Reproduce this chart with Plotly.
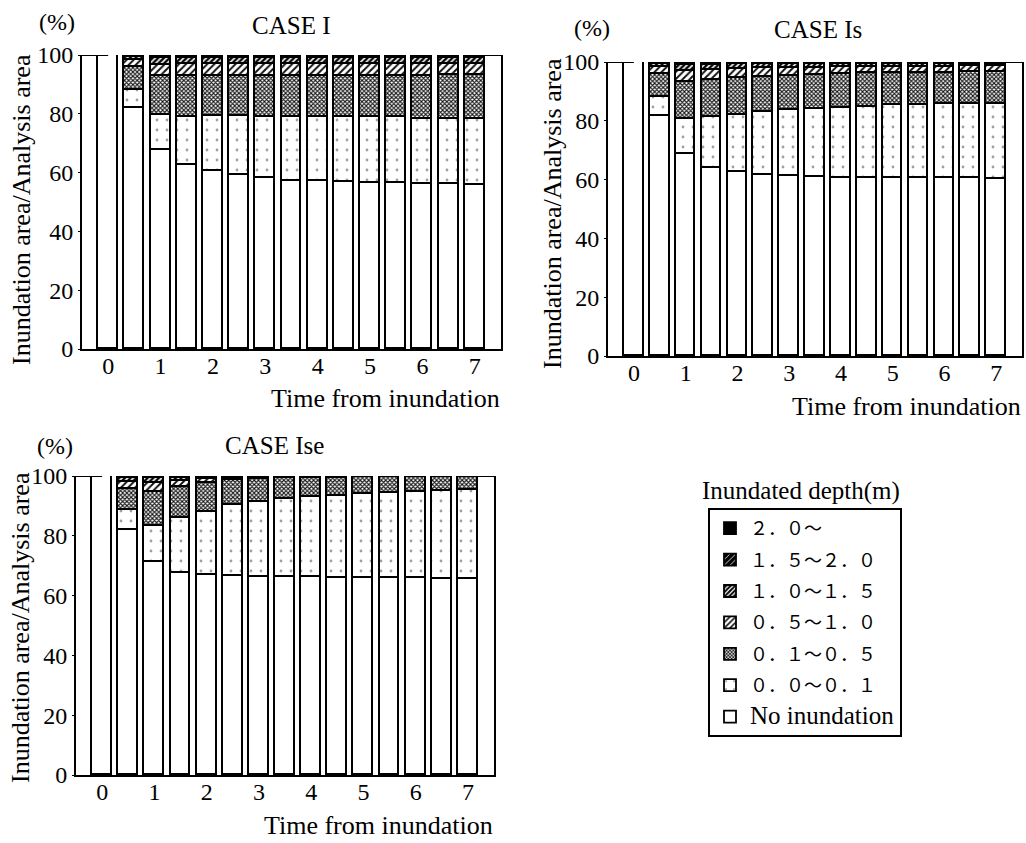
import plotly.graph_objects as go

W, H = 1026, 843

# ---------------- data ----------------
time_h = [0, 0.5, 1, 1.5, 2, 2.5, 3, 3.5, 4, 4.5, 5, 5.5, 6, 6.5, 7]
x_tick_vals = [0, 1, 2, 3, 4, 5, 6, 7]
y_tick_vals = [0, 20, 40, 60, 80, 100]

case_names = ["CASE I", "CASE Is", "CASE Ise"]
class_labels = ["No inundation", "０．０～０．１", "０．１～０．５", "０．５～１．０",
                "１．０～１．５", "１．５～２．０", "２．０～"]

# CASE I (% of analysis area)
caseI_no = [100, 81.9, 67.8, 62.5, 60.4, 59.3, 58.0, 57.3, 57.0, 56.7, 56.5, 56.3, 56.1, 56.0, 55.8]
caseI_d00_01 = [0, 6.2, 11.7, 16.5, 18.7, 20.0, 21.0, 21.5, 21.9, 22.3, 22.4, 22.7, 22.2, 22.2, 22.4]
caseI_d01_05 = [0, 7.9, 13.2, 13.9, 13.9, 13.7, 14.0, 14.2, 14.0, 13.9, 14.0, 13.9, 14.7, 14.9, 15.1]
caseI_d05_10 = [0, 2.3, 4.0, 3.9, 3.9, 3.9, 3.9, 3.9, 3.9, 3.9, 3.9, 3.9, 3.9, 3.8, 3.7]
caseI_d10_15 = [0, 1.1, 2.2, 2.1, 2.1, 2.1, 2.1, 2.1, 2.1, 2.1, 2.1, 2.1, 2.1, 2.1, 2.0]
caseI_d15_20 = [0, 0.4, 0.7, 0.7, 0.6, 0.6, 0.6, 0.6, 0.6, 0.7, 0.7, 0.7, 0.6, 0.6, 0.6]
caseI_d20 = [0, 0.2, 0.4, 0.4, 0.4, 0.4, 0.4, 0.4, 0.4, 0.4, 0.4, 0.4, 0.4, 0.4, 0.4]

# CASE Is
caseIs_no = [100, 81.6, 68.7, 64.1, 62.5, 61.7, 61.2, 60.9, 60.7, 60.6, 60.5, 60.5, 60.4, 60.4, 60.3]
caseIs_d00_01 = [0, 6.6, 11.9, 17.2, 19.6, 21.3, 22.5, 23.1, 23.8, 24.2, 24.8, 24.9, 25.2, 25.3, 25.5]
caseIs_d01_05 = [0, 7.7, 12.5, 12.6, 12.6, 12.0, 11.5, 11.5, 11.3, 11.3, 11.0, 11.0, 10.8, 10.8, 10.8]
caseIs_d05_10 = [0, 2.3, 3.8, 3.4, 3.0, 2.8, 2.7, 2.5, 2.4, 2.2, 2.1, 2.0, 2.0, 2.0, 1.9]
caseIs_d10_15 = [0, 1.1, 2.1, 1.8, 1.5, 1.4, 1.4, 1.3, 1.2, 1.1, 1.0, 1.0, 1.0, 0.9, 0.9]
caseIs_d15_20 = [0, 0.4, 0.6, 0.5, 0.5, 0.5, 0.4, 0.4, 0.3, 0.3, 0.3, 0.3, 0.3, 0.3, 0.3]
caseIs_d20 = [0, 0.3, 0.4, 0.4, 0.3, 0.3, 0.3, 0.3, 0.3, 0.3, 0.3, 0.3, 0.3, 0.3, 0.3]

# CASE Ise
caseIse_no = [100, 82.1, 71.1, 67.7, 66.8, 66.4, 66.3, 66.2, 66.1, 66.0, 65.9, 65.9, 65.8, 65.7, 65.6]
caseIse_d00_01 = [0, 6.4, 12.2, 18.4, 21.2, 23.8, 25.0, 26.0, 27.0, 27.4, 28.2, 28.5, 28.8, 29.3, 29.7]
caseIse_d01_05 = [0, 7.2, 11.5, 10.1, 9.6, 8.4, 7.8, 7.0, 6.3, 6.1, 5.5, 5.2, 5.1, 4.7, 4.4]
caseIse_d05_10 = [0, 2.4, 2.9, 2.1, 1.4, 0.8, 0.6, 0.6, 0.5, 0.5, 0.4, 0.4, 0.3, 0.3, 0.3]
caseIse_d10_15 = [0, 1.2, 1.5, 1.1, 0.6, 0.4, 0.2, 0.2, 0.1, 0.0, 0.0, 0.0, 0.0, 0.0, 0.0]
caseIse_d15_20 = [0, 0.4, 0.5, 0.3, 0.2, 0.1, 0.1, 0.0, 0.0, 0.0, 0.0, 0.0, 0.0, 0.0, 0.0]
caseIse_d20 = [0, 0.3, 0.3, 0.3, 0.2, 0.1, 0.0, 0.0, 0.0, 0.0, 0.0, 0.0, 0.0, 0.0, 0.0]

cases = [
    [caseI_no, caseI_d00_01, caseI_d01_05, caseI_d05_10, caseI_d10_15, caseI_d15_20, caseI_d20],
    [caseIs_no, caseIs_d00_01, caseIs_d01_05, caseIs_d05_10, caseIs_d10_15, caseIs_d15_20, caseIs_d20],
    [caseIse_no, caseIse_d00_01, caseIse_d01_05, caseIse_d05_10, caseIse_d10_15, caseIse_d15_20, caseIse_d20],
]

# ---------------- styles ----------------
SERIF = "Liberation Serif, Times New Roman, serif"
CJK = "Liberation Serif, Noto Sans CJK JP, serif"

class_markers = [
    dict(color="white"),
    dict(color="white", pattern=dict(shape=".", fillmode="replace", fgcolor="#a0a0a0",
                                     bgcolor="white", size=10, solidity=0.06)),
    dict(color="white", pattern=dict(shape="x", fillmode="replace", fgcolor="#1a1a1a",
                                     bgcolor="white", size=3, solidity=0.6)),
    dict(color="white", pattern=dict(shape="/", fillmode="replace", fgcolor="#111111",
                                     bgcolor="white", size=5, solidity=0.4)),
    dict(color="white", pattern=dict(shape="/", fillmode="replace", fgcolor="#000000",
                                     bgcolor="white", size=4, solidity=0.6)),
    dict(color="black", pattern=dict(shape="/", fillmode="replace", fgcolor="#ffffff",
                                     bgcolor="#000000", size=5, solidity=0.2)),
    dict(color="black"),
]

def px_x(p):
    return p / W

def px_y(p):
    return 1 - p / H

axes_px = [  # (x_left, x_right, y_top, y_bottom) in pixels
    (82, 501, 55, 349),
    (608, 1022, 62, 356),
    (76, 494, 476, 775),
]
ytitle_px = [(22, 210), (552, 214), (20, 628)]
pct_px = [(57, 22), (592, 28), (55, 446)]
title_px = [(291, 25), (818, 29), (274, 446)]

fig = go.Figure()

for ci, case in enumerate(cases):
    xa = "x" if ci == 0 else f"x{ci + 1}"
    ya = "y" if ci == 0 else f"y{ci + 1}"
    for k, vals in enumerate(case):
        label = class_labels[k]
        if k == 0:
            label = '<span style="font-size:25px">No inundation</span>'
        m = dict(class_markers[k])
        m["line"] = dict(color="black", width=1.8)
        fig.add_trace(go.Bar(
            x=time_h, y=vals, xaxis=xa, yaxis=ya, width=0.38,
            marker=m, name=label, legendgroup=class_labels[k],
            legendrank=100 - k, showlegend=(ci == 0),
        ))

layout = dict(
    width=W, height=H,
    margin=dict(l=0, r=0, t=0, b=0, pad=0, autoexpand=False),
    paper_bgcolor="white", plot_bgcolor="white",
    barmode="stack", bargap=0,
    font=dict(family=SERIF, size=22, color="black"),
    legend=dict(
        x=px_x(708), y=px_y(508), xanchor="left", yanchor="top",
        bordercolor="black", borderwidth=2, bgcolor="white",
        font=dict(family=CJK, size=18, color="black"),
        traceorder="grouped", tracegroupgap=5,
        itemwidth=30,
    ),
)

annotations = []
shapes = []
for ci, (xl, xr, yt, yb) in enumerate(axes_px):
    suf = "" if ci == 0 else str(ci + 1)
    layout[f"xaxis{suf}"] = dict(
        domain=[px_x(xl), px_x(xr)], anchor=f"y{suf}", range=[-0.5, 7.5],
        tickvals=x_tick_vals, ticktext=[str(v) for v in x_tick_vals],
        showline=True, linecolor="black", linewidth=2, mirror=False,
        showgrid=False, zeroline=False, ticks="", ticklabelstandoff=-6,
        tickfont=dict(family=SERIF, size=24), automargin=False,
    )
    layout[f"yaxis{suf}"] = dict(
        domain=[px_y(yb), px_y(yt)], anchor=f"x{suf}", range=[0, 100],
        tickvals=y_tick_vals, showline=True, linecolor="black", linewidth=2,
        mirror=True, showgrid=False, zeroline=False,
        ticks="outside", ticklen=2, tickwidth=1, tickcolor="black",
        tickfont=dict(family=SERIF, size=24), automargin=False,
    )
    xref = "x" if ci == 0 else f"x{ci + 1}"
    yref = "y" if ci == 0 else f"y{ci + 1}"
    shapes.append(dict(type="line", xref=xref, yref=yref, x0=-0.5, x1=0, y0=100, y1=100,
                       line=dict(color="black", width=2)))
    shapes.append(dict(type="line", xref=xref, yref=yref, x0=7, x1=7.5, y0=100, y1=100,
                       line=dict(color="black", width=2)))
    # case title
    annotations.append(dict(text=case_names[ci], xref="paper", yref="paper",
                            x=px_x(title_px[ci][0]), y=px_y(title_px[ci][1]),
                            xanchor="center", yanchor="middle", showarrow=False,
                            font=dict(family=SERIF, size=25)))
    # (%)
    annotations.append(dict(text="(%)", xref="paper", yref="paper",
                            x=px_x(pct_px[ci][0]), y=px_y(pct_px[ci][1]),
                            xanchor="center", yanchor="middle", showarrow=False,
                            font=dict(family=SERIF, size=24)))
    # x title
    annotations.append(dict(text="Time from inundation", xref="paper", yref="paper",
                            x=px_x(xr + 1), y=px_y(yb + 50),
                            xanchor="right", yanchor="middle", showarrow=False,
                            font=dict(family=SERIF, size=26)))
    # y title
    tx, ty = ytitle_px[ci]
    annotations.append(dict(text="Inundation area/Analysis area", xref="paper", yref="paper",
                            x=px_x(tx), y=px_y(ty), textangle=-90,
                            xanchor="center", yanchor="middle", showarrow=False,
                            font=dict(family=SERIF, size=26)))

annotations.append(dict(text="Inundated depth(m)", xref="paper", yref="paper",
                        x=px_x(801), y=px_y(491), xanchor="center", yanchor="middle",
                        showarrow=False, font=dict(family=SERIF, size=25)))

layout["annotations"] = annotations
layout["shapes"] = shapes
fig.update_layout(**layout)

fig.write_html("out.html")
